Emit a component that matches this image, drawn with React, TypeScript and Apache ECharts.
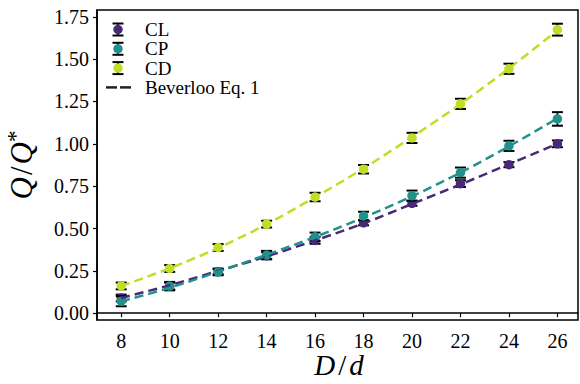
import React, { useEffect, useRef } from "react";
import * as echarts from "echarts";

const xValues = [8, 10, 12, 14, 16, 18, 20, 22, 24, 26];
const xTicks = [8, 10, 12, 14, 16, 18, 20, 22, 24, 26];
const yTicks = [0, 0.25, 0.5, 0.75, 1.0, 1.25, 1.5, 1.75];

const clValues = [0.09, 0.16, 0.245, 0.34, 0.43, 0.534, 0.649, 0.765, 0.877, 1.0];
const cpValues = [0.071, 0.16, 0.244, 0.343, 0.451, 0.574, 0.694, 0.83, 0.988, 1.147];
const cdValues = [0.161, 0.264, 0.388, 0.526, 0.686, 0.85, 1.035, 1.236, 1.443, 1.674];

const clErr = [0.02, 0.02, 0.015, 0.02, 0.02, 0.015, 0.015, 0.02, 0.015, 0.02];
const cpErr = [0.03, 0.025, 0.02, 0.025, 0.025, 0.025, 0.03, 0.03, 0.03, 0.04];
const cdErr = [0.02, 0.02, 0.02, 0.02, 0.025, 0.025, 0.03, 0.03, 0.03, 0.035];

const clFit = [0.09, 0.165, 0.25, 0.335, 0.43, 0.53, 0.645, 0.76, 0.88, 1.0];
const cpFit = [0.07, 0.15, 0.245, 0.345, 0.45, 0.565, 0.69, 0.83, 0.985, 1.15];
const cdFit = [0.16, 0.265, 0.385, 0.525, 0.685, 0.855, 1.04, 1.235, 1.445, 1.67];

const seriesNames = ["CL", "CP", "CD"];
const fitName = "Beverloo Eq. 1";
const colors = ["#482878", "#21918c", "#bddf26"];

const FONT = "'Liberation Serif', 'DejaVu Serif', serif";

export default function App() {
  const ref = useRef<HTMLDivElement>(null);
  useEffect(() => {
    if (!ref.current) return;
    const chart = echarts.init(ref.current, undefined, { renderer: "svg" });
    const vals = [clValues, cpValues, cdValues];
    const errs = [clErr, cpErr, cdErr];
    const fits = [clFit, cpFit, cdFit];

    const errRender = (params: any, api: any) => {
      const x = api.value(0);
      const lo = api.coord([x, api.value(1)]);
      const hi = api.coord([x, api.value(2)]);
      const cw = 5.5;
      const st = { stroke: "#000", lineWidth: 1.6 };
      return {
        type: "group",
        children: [
          { type: "line", shape: { x1: lo[0], y1: lo[1], x2: hi[0], y2: hi[1] }, style: st },
          { type: "line", shape: { x1: lo[0] - cw, y1: lo[1], x2: lo[0] + cw, y2: lo[1] }, style: { stroke: "#000", lineWidth: 2 } },
          { type: "line", shape: { x1: hi[0] - cw, y1: hi[1], x2: hi[0] + cw, y2: hi[1] }, style: { stroke: "#000", lineWidth: 2 } },
        ],
      };
    };

    const series: any[] = [];
    seriesNames.forEach((name, i) => {
      series.push({
        type: "custom",
        name: name + "_err",
        renderItem: errRender,
        data: xValues.map((x, k) => [x, vals[i][k] - errs[i][k], vals[i][k] + errs[i][k]]),
        z: 3 + i * 2,
        silent: true,
      });
      series.push({
        type: "scatter",
        name,
        data: xValues.map((x, k) => [x, vals[i][k]]),
        symbol: "circle",
        symbolSize: 9.5,
        itemStyle: { color: colors[i], opacity: 1 },
        z: 4 + i * 2,
      });
    });
    seriesNames.forEach((name, i) => {
      series.push({
        type: "line",
        name: name + " fit",
        data: xValues.map((x, k) => [x, fits[i][k]]),
        smooth: 0.3,
        showSymbol: false,
        symbol: "none",
        lineStyle: { color: colors[i], width: 2.5, type: [9, 5] },
        z: 10 + i,
      });
    });

    const legendGraphics: any[] = [];
    const lx = 118;
    const ly0 = 29.5;
    const dy = 19.3;
    seriesNames.forEach((name, i) => {
      const y = ly0 + i * dy;
      legendGraphics.push(
        { type: "line", shape: { x1: lx, y1: y - 6, x2: lx, y2: y + 6 }, style: { stroke: "#000", lineWidth: 1.6 } },
        { type: "line", shape: { x1: lx - 5.5, y1: y - 6, x2: lx + 5.5, y2: y - 6 }, style: { stroke: "#000", lineWidth: 2 } },
        { type: "line", shape: { x1: lx - 5.5, y1: y + 6, x2: lx + 5.5, y2: y + 6 }, style: { stroke: "#000", lineWidth: 2 } },
        { type: "circle", shape: { cx: lx, cy: y, r: 4.7 }, style: { fill: colors[i] } },
        { type: "text", x: 145, y, style: { text: name, fontFamily: FONT, fontSize: 19, lineHeight: 18, fill: "#000", verticalAlign: "middle", align: "left" } }
      );
    });
    const by = ly0 + 3 * dy;
    legendGraphics.push(
      { type: "line", shape: { x1: 106, y1: by, x2: 117, y2: by }, style: { stroke: "#222", lineWidth: 2.5 } },
      { type: "line", shape: { x1: 120, y1: by, x2: 131, y2: by }, style: { stroke: "#222", lineWidth: 2.5 } },
      { type: "text", x: 145, y: by, style: { text: fitName, fontFamily: FONT, fontSize: 19, lineHeight: 18, fill: "#000", verticalAlign: "middle", align: "left" } }
    );
    legendGraphics.push({
      type: "text",
      x: 339,
      y: 365,
      style: {
        text: "{i|D}{s|/}{i|d}",
        align: "center",
        verticalAlign: "middle",
        rich: {
          i: { fontFamily: FONT, fontStyle: "italic", fontSize: 29, lineHeight: 28, fill: "#000" },
          s: { fontFamily: FONT, fontSize: 29, lineHeight: 28, fill: "#000", padding: [0, 3, 0, 3] },
        },
      },
    });

    chart.setOption({
      animation: false,
      grid: {
        left: 97,
        right: 2,
        top: 10,
        bottom: 64,
        show: true,
        borderColor: "#000",
        borderWidth: 1.5,
        backgroundColor: "transparent",
        outerBoundsMode: "none",
        containLabel: false,
      },
      xAxis: {
        type: "value",
        min: 7,
        max: 26.85,
        axisLine: { show: true, lineStyle: { color: "#000", width: 1.5 } },
        axisTick: { show: true, inside: false, length: 4, lineStyle: { color: "#000", width: 1.2 }, customValues: xTicks },
        axisLabel: { color: "#000", fontFamily: FONT, fontSize: 20, margin: 11, customValues: xTicks },
        splitLine: { show: false },
      },
      yAxis: {
        type: "value",
        min: -0.04,
        max: 1.79,
        name: "{i|Q}{s|/}{i|Q}{b|*}",
        nameLocation: "middle",
        nameRotate: 90,
        nameGap: 60,
        nameTextStyle: {
          rich: {
            i: { fontFamily: FONT, fontStyle: "italic", fontSize: 31, lineHeight: 30, color: "#000", verticalAlign: "bottom" },
            s: { fontFamily: FONT, fontSize: 31, lineHeight: 30, color: "#000", padding: [0, 2, 0, 2], verticalAlign: "bottom" },
            b: { fontFamily: FONT, fontSize: 23, color: "#000", verticalAlign: "top", padding: [0, 0, 10, 0] },
          },
        },
        axisLine: { show: true, lineStyle: { color: "#000", width: 1.5 } },
        axisTick: { show: true, inside: false, length: 4, lineStyle: { color: "#000", width: 1.2 }, customValues: yTicks },
        axisLabel: {
          color: "#000",
          fontFamily: FONT,
          fontSize: 20,
          margin: 8,
          customValues: yTicks,
          formatter: (v: number) => v.toFixed(2),
        },
        splitLine: { show: false },
      },
      graphic: legendGraphics,
      series,
    });
    return () => chart.dispose();
  }, []);
  return <div ref={ref} style={{ width: 580, height: 384, position: "absolute", left: 0, top: 0 }} />;
}
